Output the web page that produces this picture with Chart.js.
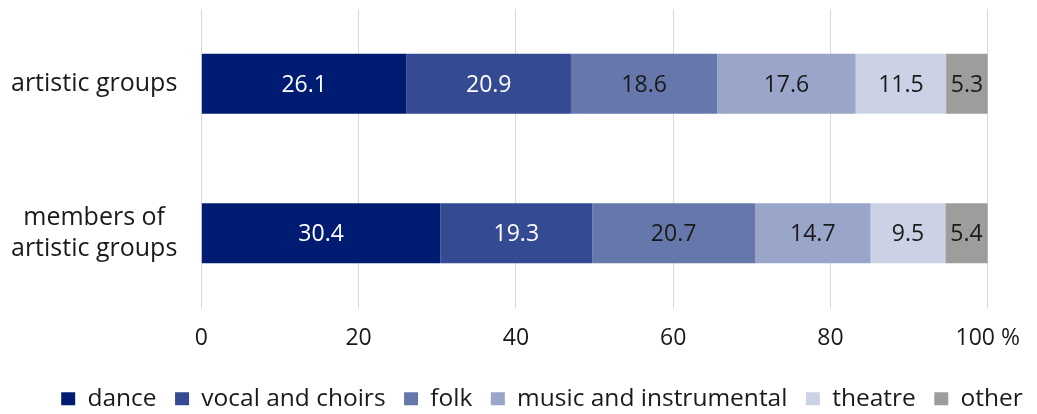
<!DOCTYPE html>
<html>
<head>
<meta charset="utf-8">
<script src="https://cdn.jsdelivr.net/npm/chart.js@4.4.1/dist/chart.umd.min.js"></script>
<style>
  html, body { margin: 0; padding: 0; background: #ffffff; }
  #wrap { width: 1037px; height: 414px; }
</style>
</head>
<body>
<div id="wrap"><canvas id="c"></canvas></div>
<script>
const categories = [["artistic groups"], ["members of", "artistic groups"]];
const seriesNames = ["dance", "vocal and choirs", "folk", "music and instrumental", "theatre", "other"];
const dance = [26.1, 30.4];
const vocalAndChoirs = [20.9, 19.3];
const folk = [18.6, 20.7];
const musicAndInstrumental = [17.6, 14.7];
const theatre = [11.5, 9.5];
const other = [5.3, 5.4];
const xTicks = [0, 20, 40, 60, 80, 100];

const seriesValues = [dance, vocalAndChoirs, folk, musicAndInstrumental, theatre, other];
const colors = ["#001c72", "#344a93", "#6677ab", "#99a5c9", "#ccd2e5", "#9d9e9c"];
const labelColors = ["#ffffff", "#ffffff", "#1a1a1a", "#1a1a1a", "#1a1a1a", "#1a1a1a"];
const FONT = "'Open Sans', 'Noto Sans', sans-serif";

const barLabels = {
  id: "barLabels",
  afterDatasetsDraw(chart) {
    const ctx = chart.ctx;
    ctx.save();
    ctx.font = "500 23px " + FONT;
    ctx.textAlign = "center";
    ctx.textBaseline = "middle";
    chart.data.datasets.forEach((ds, di) => {
      const meta = chart.getDatasetMeta(di);
      meta.data.forEach((bar, i) => {
        const v = ds.data[i];
        ctx.fillStyle = labelColors[di];
        ctx.fillText(v.toFixed(1), (bar.x + bar.base) / 2, bar.y + 1.5);
      });
    });
    ctx.restore();
  }
};

// shift the legend row horizontally so it sits like the original
const legendShift = {
  id: "legendShift",
  afterLayout(chart) {
    if (chart.legend) {
      chart.legend.left += 29;
      chart.legend.right += 29;
    }
  }
};

new Chart(document.getElementById("c"), {
  type: "bar",
  data: {
    labels: categories,
    datasets: seriesNames.map((name, i) => ({
      label: name,
      data: seriesValues[i],
      backgroundColor: colors[i],
      borderWidth: 0,
      categoryPercentage: 1.0,
      barPercentage: 0.403
    }))
  },
  options: {
    indexAxis: "y",
    responsive: true,
    maintainAspectRatio: false,
    animation: false,
    devicePixelRatio: 1,
    layout: { padding: { left: 11, right: 22, top: 9, bottom: -7 } },
    scales: {
      x: {
        stacked: true,
        min: 0,
        max: 100,
        afterBuildTicks(scale) { scale.ticks = xTicks.map(v => ({ value: v })); },
        afterFit(scale) { scale.height = 60; },
        ticks: {
          padding: 17,
          color: "#1a1a1a",
          font: { family: FONT, size: 23, weight: 500 },
          maxRotation: 0,
          callback: (v) => (v === 100 ? "100 %" : String(v))
        },
        grid: { color: "#d9d9d9", lineWidth: 1, drawTicks: false },
        border: { display: false }
      },
      y: {
        stacked: true,
        afterFit(scale) { scale.paddingTop = 0; scale.paddingBottom = 0; scale.width -= 24; },
        ticks: {
          padding: 24,
          crossAlign: "center",
          color: "#1a1a1a",
          font: { family: FONT, size: 25, lineHeight: 1.24, weight: 500 }
        },
        grid: { display: false, drawTicks: false },
        border: { display: false }
      }
    },
    plugins: {
      legend: {
        position: "bottom",
        labels: {
          boxWidth: 14,
          boxHeight: 13,
          padding: 18.5,
          color: "#1a1a1a",
          font: { family: FONT, size: 24.5, weight: 500 }
        }
      },
      tooltip: { enabled: false }
    }
  },
  plugins: [barLabels, legendShift]
});
</script>
</body>
</html>
